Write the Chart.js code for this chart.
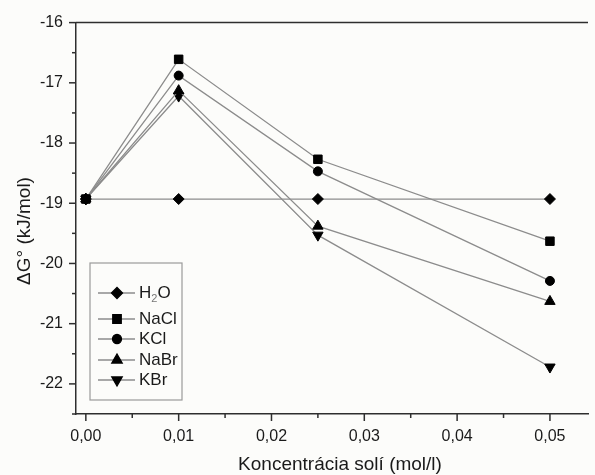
<!DOCTYPE html>
<html>
<head>
<meta charset="utf-8">
<script src="https://cdn.jsdelivr.net/npm/chart.js@4"></script>
<style>
  html, body { margin: 0; padding: 0; background: #fcfcfa; }
  #wrap { width: 595px; height: 475px; }
</style>
</head>
<body>
<div id="wrap"><canvas id="chart" width="595" height="475"></canvas></div>
<script>
// ===== Data =====
const concentrations = [0, 0.01, 0.025, 0.05];
const h2oValues = [-18.93, -18.93, -18.93, -18.93];
const naclValues = [-18.93, -16.61, -18.27, -19.63];
const kclValues = [-18.93, -16.88, -18.47, -20.29];
const nabrValues = [-18.93, -17.13, -19.38, -20.63];
const kbrValues = [-18.93, -17.22, -19.53, -21.72];
const seriesNames = ["H2O", "NaCl", "KCl", "NaBr", "KBr"];
const xTicks = [0, 0.01, 0.02, 0.03, 0.04, 0.05];
const yTicks = [-22, -21, -20, -19, -18, -17, -16];

const FONT = "'Liberation Sans', Arial, sans-serif";
const LINE = "#8c8c8c";
const AXIS = "#2e2e2e";
const TEXT = "#1a1a1a";

function toPoints(values) {
  return values.map((v, i) => ({ x: concentrations[i], y: v }));
}

function makeSet(label, values, style, radius, rotation) {
  return {
    label: label,
    data: toPoints(values),
    borderColor: LINE,
    borderWidth: 1.3,
    backgroundColor: "#000",
    pointBackgroundColor: "#000",
    pointBorderColor: "#000",
    pointBorderWidth: 1,
    pointStyle: style,
    pointRadius: radius,
    pointRotation: rotation || 0,
    tension: 0,
  };
}

// ===== Extra drawing: minor ticks, top line, titles, legend =====
const extras = {
  id: "extras",
  afterDraw(chart) {
    const ctx = chart.ctx;
    const area = chart.chartArea;
    const xs = chart.scales.x;
    const ys = chart.scales.y;
    ctx.save();
    ctx.strokeStyle = AXIS;
    ctx.lineWidth = 1.5;

    // top frame line
    ctx.beginPath();
    ctx.moveTo(area.left, area.top);
    ctx.lineTo(area.right, area.top);
    ctx.stroke();

    // x ticks (major and minor)
    for (let k = 0; k <= 10; k++) {
      const v = k * 0.005;
      const px = xs.getPixelForValue(v);
      const len = k % 2 === 0 ? 7 : 4;
      ctx.beginPath();
      ctx.moveTo(px, area.bottom);
      ctx.lineTo(px, area.bottom + len);
      ctx.stroke();
    }
    // y ticks
    for (let k = 0; k <= 13; k++) {
      const v = -22.5 + k * 0.5;
      const py = ys.getPixelForValue(v);
      const len = k % 2 === 1 ? 7 : 4;
      ctx.beginPath();
      ctx.moveTo(area.left, py);
      ctx.lineTo(area.left - len, py);
      ctx.stroke();
    }

    // axis titles
    ctx.fillStyle = TEXT;
    ctx.font = "19px " + FONT;
    ctx.textAlign = "center";
    ctx.textBaseline = "alphabetic";
    ctx.fillText("Koncentrácia solí (mol/l)", 340, 470);
    ctx.save();
    ctx.translate(30, 231);
    ctx.rotate(-Math.PI / 2);
    ctx.fillText("ΔG° (kJ/mol)", 0, 0);
    ctx.restore();

    // legend
    const box = { x: 90, y: 263, w: 92, h: 137 };
    ctx.strokeStyle = "#9a9a9a";
    ctx.lineWidth = 1.2;
    ctx.strokeRect(box.x, box.y, box.w, box.h);
    const rowY = [293, 319, 339, 360, 380];
    chart.data.datasets.forEach((ds, i) => {
      const y = rowY[i];
      ctx.strokeStyle = LINE;
      ctx.lineWidth = 1.3;
      ctx.beginPath();
      ctx.moveTo(98, y);
      ctx.lineTo(135, y);
      ctx.stroke();
      ctx.fillStyle = "#000";
      ctx.strokeStyle = "#000";
      Chart.helpers.drawPoint(ctx, {
        pointStyle: ds.pointStyle,
        rotation: ds.pointRotation,
        radius: ds.pointRadius,
        borderWidth: 1,
      }, 117, y);
      ctx.fillStyle = TEXT;
      ctx.textAlign = "left";
      ctx.textBaseline = "middle";
      ctx.font = "17px " + FONT;
      if (seriesNames[i] === "H2O") {
        ctx.fillText("H", 139, y);
        const hw = ctx.measureText("H").width;
        ctx.font = "11px " + FONT;
        ctx.fillStyle = "#777";
        ctx.fillText("2", 139 + hw, y + 6);
        const sw = ctx.measureText("2").width;
        ctx.font = "17px " + FONT;
        ctx.fillStyle = TEXT;
        ctx.fillText("O", 139 + hw + sw, y);
      } else {
        ctx.fillText(seriesNames[i], 139, y);
      }
    });
    ctx.restore();
  },
};

new Chart(document.getElementById("chart"), {
  type: "line",
  data: {
    datasets: [
      makeSet(seriesNames[0], h2oValues, "rectRot", 5.5),
      makeSet(seriesNames[1], naclValues, "rect", 6),
      makeSet(seriesNames[2], kclValues, "circle", 4.5),
      makeSet(seriesNames[3], nabrValues, "triangle", 6),
      makeSet(seriesNames[4], kbrValues, "triangle", 6, 180),
    ],
  },
  options: {
    responsive: false,
    animation: false,
    layout: { padding: { top: 22, right: 0, left: 0, bottom: 0 } },
    plugins: {
      legend: { display: false },
      tooltip: { enabled: false },
    },
    scales: {
      x: {
        type: "linear",
        min: -0.00106,
        max: 0.0541,
        afterFit: (s) => { s.height = 61; },
        afterBuildTicks: (s) => { s.ticks = xTicks.map((v) => ({ value: v })); },
        grid: { display: false, drawTicks: false },
        border: { display: true, color: AXIS, width: 1.5 },
        ticks: {
          padding: 13,
          color: TEXT,
          font: { family: FONT, size: 16 },
          maxRotation: 0,
          callback: (v) => v.toFixed(2).replace(".", ","),
        },
      },
      y: {
        type: "linear",
        min: -22.5,
        max: -16,
        afterFit: (s) => { s.width = 76; },
        afterBuildTicks: (s) => { s.ticks = yTicks.map((v) => ({ value: v })); },
        grid: { display: false, drawTicks: false },
        border: { display: true, color: AXIS, width: 1.5 },
        ticks: {
          padding: 13,
          color: TEXT,
          font: { family: FONT, size: 16 },
          callback: (v) => String(v),
        },
      },
    },
  },
  plugins: [extras],
});
</script>
</body>
</html>
